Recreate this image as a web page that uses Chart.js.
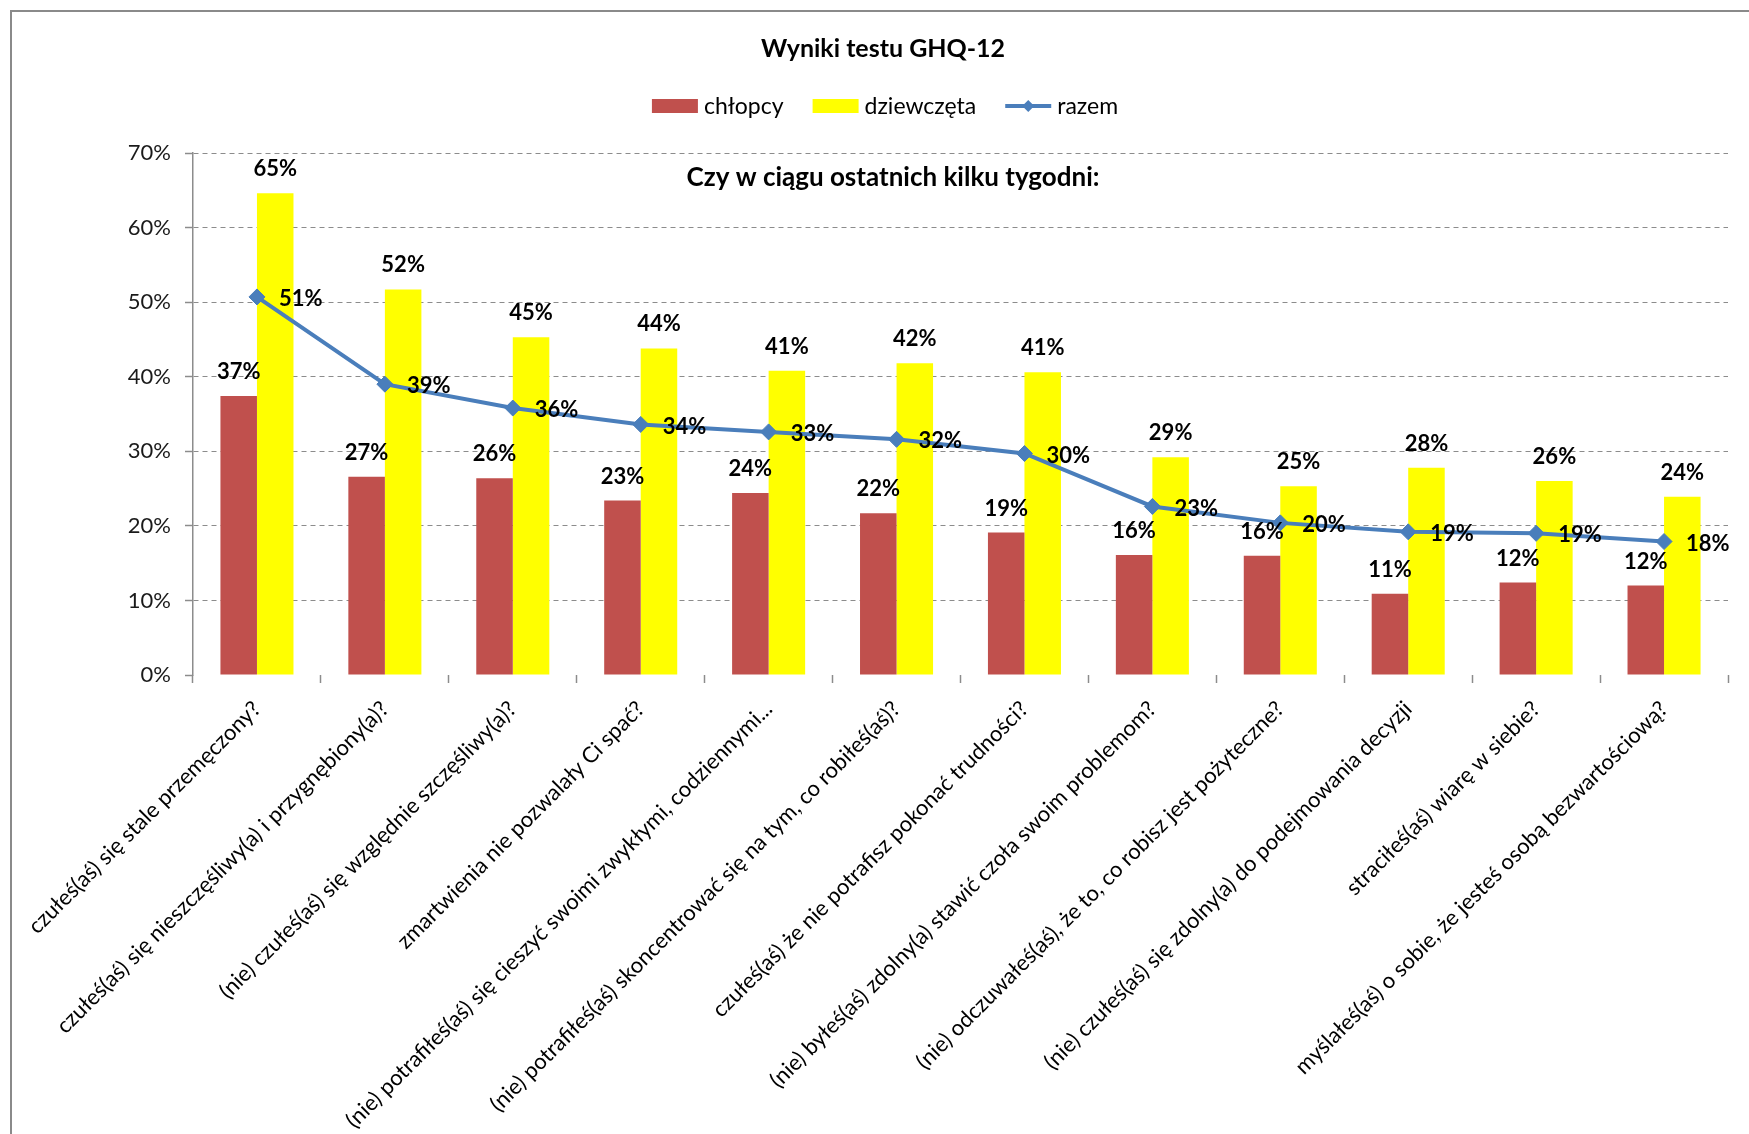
<!DOCTYPE html>
<html lang="pl">
<head>
<meta charset="utf-8">
<title>Wyniki testu GHQ-12</title>
<script src="https://cdn.jsdelivr.net/npm/chart.js@4.4.1/dist/chart.umd.min.js"></script>
<style>
  html, body { margin: 0; padding: 0; background: #ffffff; }
  #wrap { width: 1749px; height: 1134px; position: relative; }
</style>
</head>
<body>
<div id="wrap"><canvas id="ghq"></canvas></div>
<script>
// Pytania testu GHQ-12 (kategorie osi X)
const categories = [
  'czułeś(aś) się stale przemęczony?',
  'czułeś(aś) się nieszczęśliwy(a) i przygnębiony(a)?',
  '(nie) czułeś(aś) się względnie szczęśliwy(a)?',
  'zmartwienia nie pozwalały Ci spać?',
  '(nie) potrafiłeś(aś) się cieszyć swoimi zwykłymi, codziennymi...',
  '(nie) potrafiłeś(aś) skoncentrować się na tym, co robiłeś(aś)?',
  'czułeś(aś) że nie potrafisz pokonać trudności?',
  '(nie) byłeś(aś) zdolny(a) stawić czoła swoim problemom?',
  '(nie) odczuwałeś(aś), że to, co robisz jest pożyteczne?',
  '(nie) czułeś(aś) się zdolny(a) do podejmowania decyzji',
  'straciłeś(aś) wiarę w siebie?',
  'myślałeś(aś) o sobie, że jesteś osobą bezwartościową?'
];

// Odsetek odpowiedzi wskazujących na problem (%)
const chlopcy    = [37.4, 26.6, 26.4, 23.4, 24.4, 21.7, 19.1, 16.1, 16.0, 10.9, 12.4, 12.0];
const dziewczeta = [64.6, 51.7, 45.3, 43.8, 40.8, 41.8, 40.6, 29.2, 25.3, 27.8, 26.0, 23.9];
const razem      = [50.7, 39.0, 35.8, 33.6, 32.6, 31.6, 29.7, 22.6, 20.4, 19.2, 19.0, 17.9];

// Oś Y: zakres i krok podziałki (%)
const yMin = 0;
const yMax = 70;
const yStep = 10;

const seriesNames = ['chłopcy', 'dziewczęta', 'razem'];
const chartTitle = 'Wyniki testu GHQ-12';
const chartSubtitle = 'Czy w ciągu ostatnich kilku tygodni:';

const RED = '#C0504D';
const YELLOW = '#FFFF00';
const BLUE = '#4A7EBB';
const GRID = '#8C8C8C';
const FONT = 'Lato, "Open Sans", sans-serif';

const pct = v => Math.round(v) + '%';

// Ramka, tytuły, legenda i etykiety wartości
const decor = {
  id: 'decor',
  beforeDraw(chart) {
    const ctx = chart.ctx;
    ctx.save();
    ctx.fillStyle = '#ffffff';
    ctx.fillRect(0, 0, chart.width, chart.height);
    ctx.strokeStyle = '#8A8A8A';
    ctx.lineWidth = 2;
    ctx.strokeRect(11, 11, chart.width + 40, chart.height + 40);
    ctx.restore();
  },
  afterDatasetsDraw(chart) {
    const ctx = chart.ctx;
    ctx.save();
    ctx.fillStyle = '#000000';
    ctx.font = 'bold 22px ' + FONT;
    chart.data.datasets.forEach((ds, i) => {
      const meta = chart.getDatasetMeta(i);
      meta.data.forEach((el, j) => {
        const v = ds.data[j];
        if (meta.type === 'bar') {
          ctx.textAlign = 'center';
          ctx.textBaseline = 'alphabetic';
          ctx.fillText(pct(v), el.x, el.y - 17);
        } else {
          ctx.textAlign = 'left';
          ctx.textBaseline = 'middle';
          ctx.fillText(pct(v), el.x + 22, el.y + 2);
        }
      });
    });
    ctx.restore();
  },
  afterDraw(chart) {
    const ctx = chart.ctx;
    ctx.save();
    ctx.fillStyle = '#000000';
    ctx.textBaseline = 'middle';
    ctx.textAlign = 'center';

    ctx.font = 'bold 25px ' + FONT;
    ctx.fillText(chartTitle, 883, 49);

    ctx.font = 'bold 26px ' + FONT;
    ctx.fillText(chartSubtitle, 893, 178);

    // Legenda
    ctx.font = '23px ' + FONT;
    const boxW = 46, boxH = 14, gapText = 6, gapItem = 29;
    const widths = seriesNames.map(n => boxW + gapText + ctx.measureText(n).width);
    const total = widths.reduce((a, b) => a + b, 0) + gapItem * (seriesNames.length - 1);
    let x = 885 - total / 2;
    const cy = 106;
    const colors = [RED, YELLOW, BLUE];
    ctx.textAlign = 'left';
    seriesNames.forEach((n, i) => {
      if (i < 2) {
        ctx.fillStyle = colors[i];
        ctx.fillRect(x, cy - boxH / 2, boxW, boxH);
      } else {
        ctx.strokeStyle = BLUE;
        ctx.lineWidth = 4;
        ctx.beginPath();
        ctx.moveTo(x, cy);
        ctx.lineTo(x + boxW, cy);
        ctx.stroke();
        ctx.fillStyle = BLUE;
        ctx.beginPath();
        ctx.moveTo(x + boxW / 2, cy - 6);
        ctx.lineTo(x + boxW / 2 + 6, cy);
        ctx.lineTo(x + boxW / 2, cy + 6);
        ctx.lineTo(x + boxW / 2 - 6, cy);
        ctx.closePath();
        ctx.fill();
      }
      ctx.fillStyle = '#000000';
      ctx.fillText(n, x + boxW + gapText, cy + 1);
      x += widths[i] + gapItem;
    });
    ctx.restore();
  }
};

Chart.defaults.font.family = FONT;
Chart.defaults.color = '#1a1a1a';

new Chart(document.getElementById('ghq'), {
  type: 'bar',
  data: {
    labels: categories,
    datasets: [
      {
        type: 'line',
        label: seriesNames[2],
        data: razem,
        borderColor: BLUE,
        backgroundColor: BLUE,
        borderWidth: 4,
        tension: 0,
        pointStyle: 'rectRot',
        pointRadius: 8,
        pointBackgroundColor: BLUE,
        pointBorderColor: BLUE,
        pointBorderWidth: 1,
        order: 0
      },
      {
        label: seriesNames[0],
        data: chlopcy,
        backgroundColor: RED,
        categoryPercentage: 0.571,
        barPercentage: 1,
        order: 1
      },
      {
        label: seriesNames[1],
        data: dziewczeta,
        backgroundColor: YELLOW,
        categoryPercentage: 0.571,
        barPercentage: 1,
        order: 1
      }
    ]
  },
  options: {
    responsive: true,
    maintainAspectRatio: false,
    animation: false,
    layout: { padding: { top: 153, right: 21, bottom: 0, left: 0 } },
    plugins: {
      legend: { display: false },
      title: { display: false },
      tooltip: { enabled: false }
    },
    scales: {
      x: {
        offset: true,
        grid: {
          offset: true,
          drawOnChartArea: false,
          tickLength: 8,
          tickColor: GRID,
          tickWidth: 1.5
        },
        border: { display: false },
        ticks: {
          autoSkip: false,
          maxRotation: 45,
          minRotation: 45,
          padding: 13,
          color: '#000000',
          font: { size: 22 }
        },
        afterFit(scale) { scale.height = 459; }
      },
      y: {
        min: yMin,
        max: yMax,
        grid: {
          color: c => (c.tick && c.tick.value === 0) ? 'rgba(0,0,0,0)' : GRID,
          lineWidth: 1,
          tickLength: 8,
          tickColor: GRID,
          tickWidth: 1.5,
          tickBorderDash: []
        },
        border: { display: true, color: GRID, width: 1.5, dash: [5, 4] },
        ticks: {
          stepSize: yStep,
          padding: 14,
          color: '#1a1a1a',
          font: { size: 22 },
          callback: v => v + '%'
        },
        afterFit(scale) { scale.width = 193; }
      }
    }
  },
  plugins: [decor]
});
</script>
</body>
</html>
